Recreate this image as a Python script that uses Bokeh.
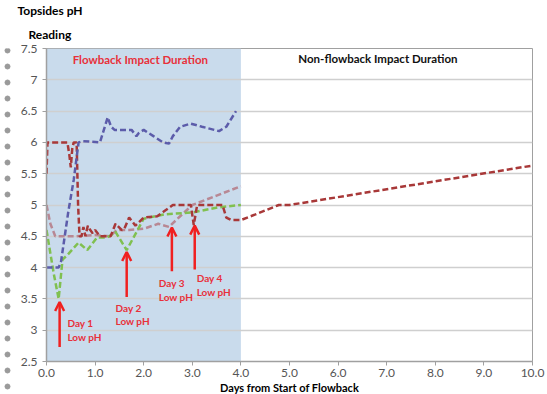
from bokeh.plotting import figure
from bokeh.layouts import row
from bokeh.models import (BoxAnnotation, Label, Arrow, OpenHead, FixedTicker,
                          ColumnDataSource, Title)
from bokeh.core.properties import value
from bokeh.embed import file_html
from bokeh.resources import INLINE

# ---------------- data ----------------
blue_x = [0, 0.25, 0.3, 0.45, 0.56, 0.66, 0.75, 1.1, 1.18, 1.26, 1.33, 1.4, 1.75,
          1.85, 1.9, 2.0, 2.2, 2.4, 2.52, 2.6, 2.75, 2.97, 3.2, 3.55, 3.7, 3.9]
blue_y = [4.0, 4.0, 4.1, 4.9, 5.4, 6.0, 6.02, 6.0, 6.2, 6.4, 6.25, 6.2, 6.2,
          6.1, 6.15, 6.2, 6.1, 6.0, 5.98, 6.1, 6.25, 6.3, 6.25, 6.18, 6.25, 6.5]

red_x = [0, 0.02, 0.43, 0.47, 0.5, 0.53, 0.56, 0.62, 0.65, 0.68, 0.72, 0.76, 0.8,
         0.85, 0.9, 0.95, 1.0, 1.1, 1.32, 1.42, 1.55, 1.6, 1.7, 1.83, 2.0, 2.28,
         2.42, 2.6, 2.97, 3.03, 3.1, 3.62, 3.7, 3.8, 4.0, 4.3, 4.78, 5.0, 10.0]
red_y = [5.5, 6.0, 6.0, 5.8, 5.6, 5.9, 6.0, 6.0, 5.0, 4.5, 4.5, 4.65, 4.5,
         4.67, 4.6, 4.55, 4.6, 4.5, 4.5, 4.7, 4.6, 4.62, 4.8, 4.67, 4.8, 4.82,
         4.9, 5.0, 5.0, 4.68, 5.0, 5.0, 4.8, 4.76, 4.76, 4.85, 5.0, 5.0, 5.63]

mauve_x = [0, 0.08, 0.18, 0.6, 1.0, 1.3, 1.45, 1.7, 2.0, 2.3, 2.52, 2.75, 3.0, 3.5, 4.0]
mauve_y = [5.0, 4.7, 4.5, 4.5, 4.52, 4.5, 4.6, 4.6, 4.62, 4.7, 4.65, 4.82, 5.0, 5.15, 5.3]

green_x = [0, 0.15, 0.25, 0.33, 0.43, 0.66, 0.84, 1.04, 1.25, 1.42, 1.65, 2.0,
           2.42, 3.0, 3.52, 4.0]
green_y = [4.6, 3.9, 3.5, 4.13, 4.2, 4.4, 4.28, 4.48, 4.48, 4.57, 4.28, 4.78,
           4.85, 4.88, 4.96, 5.0]

flowback_start = 0.0
flowback_end = 4.0

y_ticks = [2.5, 3, 3.5, 4, 4.5, 5, 5.5, 6, 6.5, 7, 7.5]
y_tick_labels = ["2.5", "3", "3.5", "4", "4.5", "5", "5.5", "6", "6.5", "7", "7.5"]
x_ticks = [0, 1, 2, 3, 4, 5, 6, 7, 8, 9, 10]
x_tick_labels = ["0.0", "1.0", "2.0", "3.0", "4.0", "5.0", "6.0", "7.0", "8.0", "9.0", "10.0"]

# low-pH callouts
arrow_x = [0.27, 1.65, 2.58, 3.05]
arrow_bottom = [2.73, 3.53, 3.94, 3.97]
arrow_top = [3.45, 4.25, 4.64, 4.67]
day_label_x = [0.43, 1.42, 2.31, 3.09]
day_label_y = [3.0, 3.25, 3.64, 3.72]
day_labels = ["Day 1\nLow pH", "Day 2\nLow pH", "Day 3\nLow pH", "Day 4\nLow pH"]

FONT = "Lato"
RED_TXT = "#e8303a"

# ---------------- main figure ----------------
p = figure(frame_width=486, frame_height=313, x_range=(0, 10), y_range=(2.5, 7.5),
           output_backend="svg", toolbar_location=None,
           min_border_left=32, min_border_top=47, min_border_right=14,
           min_border_bottom=33)
p.title.visible = False
p.background_fill_color = "white"
p.border_fill_color = "white"
p.outline_line_color = "#a0a0a0"
p.outline_line_width = 1

box = BoxAnnotation(left=flowback_start, right=flowback_end, fill_color="#c9dbec",
                    fill_alpha=1.0, line_color=None, level="image")
p.add_layout(box)

p.xgrid.visible = False
p.ygrid.grid_line_color = "#cfcfcf"
p.ygrid.grid_line_width = 1.5
p.ygrid.ticker = FixedTicker(ticks=y_ticks)

p.yaxis.ticker = FixedTicker(ticks=y_ticks)
p.yaxis.major_label_overrides = dict(zip(y_ticks, y_tick_labels))
p.xaxis.ticker = FixedTicker(ticks=x_ticks)
p.xaxis.major_label_overrides = dict(zip(x_ticks, x_tick_labels))
for ax in (p.xaxis[0], p.yaxis[0]):
    ax.axis_line_color = "#a0a0a0"
    ax.axis_line_width = 1.5
    ax.major_tick_line_color = "#a0a0a0"
    ax.major_tick_in = 0
    ax.major_tick_out = 4
    ax.minor_tick_line_color = None
    ax.major_label_text_font = FONT
    ax.major_label_text_font_size = "12px"
    ax.major_label_text_color = "#555555"
p.yaxis.major_label_standoff = 5
p.xaxis.major_label_standoff = 3
p.xaxis.axis_label = "Days from Start of Flowback"
p.xaxis.axis_label_text_font = FONT
p.xaxis.axis_label_text_font_style = "bold"
p.xaxis.axis_label_text_font_size = "11px"
p.xaxis.axis_label_text_color = "black"
p.xaxis.axis_label_standoff = 1

dash = "6 3"
p.line(mauve_x, mauve_y, line_color="#b88894", line_width=2.5, line_dash=dash)
p.line(green_x, green_y, line_color="#80c050", line_width=2.5, line_dash=dash)
p.line(red_x, red_y, line_color="#a83838", line_width=2.5, line_dash=dash)
p.line(blue_x, blue_y, line_color="#5c5caa", line_width=2.5, line_dash=dash)

for ax_, b, t in zip(arrow_x, arrow_bottom, arrow_top):
    p.add_layout(Arrow(x_start=ax_, y_start=b, x_end=ax_, y_end=t,
                       line_color="#f02020", line_width=2.5,
                       end=OpenHead(size=9, line_color="#f02020", line_width=2.5)))

src = ColumnDataSource(dict(x=day_label_x, y=day_label_y, t=day_labels))
p.text(x="x", y="y", text="t", source=src, text_font=value(FONT),
       text_font_style="bold", text_font_size="10px", text_color=RED_TXT,
       text_align="left", text_baseline="middle", text_line_height=1.15)

p.add_layout(Label(x=1.96, y=7.32, text="Flowback  Impact Duration", text_font=FONT,
                   text_font_style="bold", text_font_size="11.5px", text_color=RED_TXT,
                   text_align="center", text_baseline="middle"))
p.add_layout(Label(x=6.82, y=7.34, text="Non-flowback Impact Duration", text_font=FONT,
                   text_font_style="bold", text_font_size="11.5px", text_color="#111111",
                   text_align="center", text_baseline="middle"))

# y-axis title as two stacked titles above the frame
p.add_layout(Title(text="Reading", align="left", offset=-18, standoff=14,
                   text_font=FONT, text_font_style="bold", text_font_size="12px",
                   text_color="black"), "above")
p.add_layout(Title(text="Topsides pH", align="left", offset=-29, standoff=0,
                   text_font=FONT, text_font_style="bold", text_font_size="12px",
                   text_color="black"), "above")

# ---------------- decorative dot column ----------------
H = 393
d = figure(frame_width=14, frame_height=H, x_range=(0, 14), y_range=(0, H),
           x_axis_type=None, y_axis_type=None,
           output_backend="svg", toolbar_location=None,
           min_border=0, outline_line_color=None)
d.title.visible = False
d.grid.visible = False
dot_y = [H - 2 - 16 * i for i in range(25)]
d.scatter([7] * len(dot_y), dot_y, size=5, color="#9a9a9a")

layout = row(d, p)
open("out.html", "w").write(file_html(layout, INLINE))
